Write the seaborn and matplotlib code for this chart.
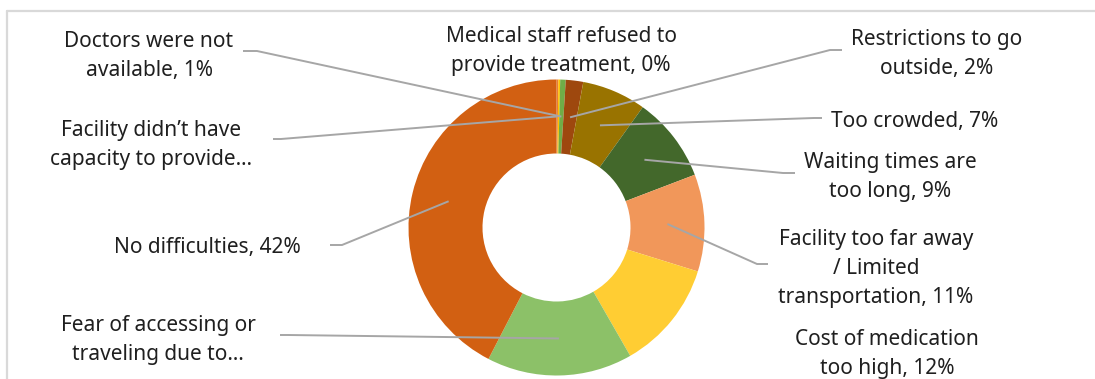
import matplotlib
matplotlib.use("Agg")
import matplotlib.pyplot as plt
import numpy as np
import seaborn as sns

# Difficulties in accessing health care (share of respondents, %)
categories = [
    "Facility didn\u2019t have\ncapacity to provide\u2026",
    "Medical staff refused to\nprovide treatment",
    "Doctors were not\navailable",
    "Restrictions to go\noutside",
    "Too crowded",
    "Waiting times are\ntoo long",
    "Facility too far away\n/ Limited\ntransportation",
    "Cost of medication\ntoo high",
    "Fear of accessing or\ntraveling due to\u2026",
    "No difficulties",
]
values = [0.2, 0.2, 0.6, 1.9, 7.0, 9.3, 10.6, 11.9, 15.9, 42.4]
truncated = [True, False, False, False, False, False, False, False, True, False]
colors = ["#ED7D31", "#FFC000", "#70AD47", "#9E480E", "#997300",
          "#43682B", "#F1975A", "#FFCD33", "#8CC168", "#D26012"]

# Label placement in pixel space (x, y measured from top):
# text centre, leader start next to text, leader elbow
label_pos = [(151, 145), (561, 51), (149, 56), (937, 54), (915, 121),
             (890, 177), (876, 268), (887, 354), (158, 340), (207, 248)]
leader_start = [(273, 139), None, (243, 51), (842, 50), (822, 118),
                (795, 173), (768, 264), None, (280, 335), (330, 245)]
leader_elbow = [(281, 139), None, (257, 51), (830, 50), (814, 118),
                (783, 173), (757, 264), None, (288, 335), (342, 245)]

W, H = 1095, 379
sns.set_theme(style="white")
plt.rcParams["font.family"] = ["Noto Sans", "DejaVu Sans"]
palette = sns.color_palette(colors)

fig = plt.figure(figsize=(W / 100, H / 100), dpi=100)
ax = fig.add_axes([0, 0, 1, 1])

cx, cy, R = 556.5, H - 227.5, 148
wedges, _ = ax.pie(values, colors=palette, startangle=90, counterclock=False,
                   center=(cx, cy), radius=R,
                   wedgeprops=dict(width=R * 0.5, linewidth=0))

ax.set_xlim(0, W)
ax.set_ylim(0, H)
ax.set_aspect("equal")
ax.axis("off")

def yup(y):
    return H - y

line_color = "#A6A6A6"
for w, cat, v, tr, pos, ls, le in zip(wedges, categories, values, truncated,
                                      label_pos, leader_start, leader_elbow):
    text = cat if tr else f"{cat}, {v:.0f}%"
    ax.text(pos[0], yup(pos[1]), text, ha="center", va="center",
            fontsize=15, color="#1F1F1F", linespacing=1.5)
    if ls is not None:
        mid = np.deg2rad((w.theta1 + w.theta2) / 2)
        ex = cx + 0.75 * R * np.cos(mid)
        ey = cy + 0.75 * R * np.sin(mid)
        ax.plot([ls[0], le[0], ex], [yup(ls[1]), yup(le[1]), ey],
                color=line_color, lw=1.4, solid_capstyle="butt", zorder=5)

# chart area border (top and left edges)
ax.plot([7, W], [yup(10.5), yup(10.5)], color="#D9D9D9", lw=1.6, clip_on=False)
ax.plot([7, 7], [yup(10.5), 0], color="#D9D9D9", lw=1.6, clip_on=False)

fig.savefig("out.png", dpi=100)
